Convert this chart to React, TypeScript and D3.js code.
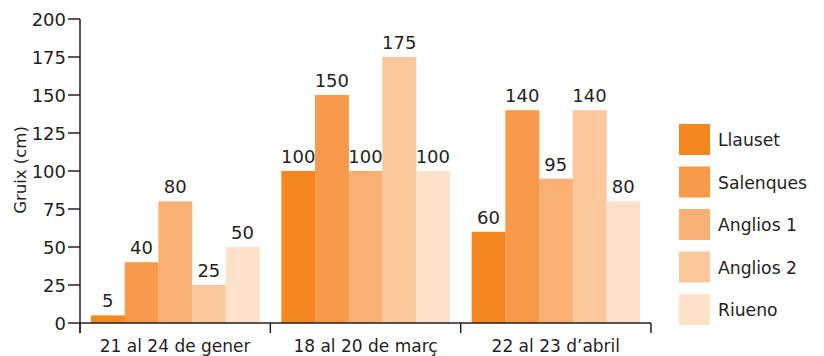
import React from "react";
import * as d3 from "d3";

const periods = ["21 al 24 de gener", "18 al 20 de març", "22 al 23 d’abril"];
const stations = ["Llauset", "Salenques", "Anglios 1", "Anglios 2", "Riueno"];
const llauset = [5, 100, 60];
const salenques = [40, 150, 140];
const anglios1 = [80, 100, 95];
const anglios2 = [25, 175, 140];
const riueno = [50, 100, 80];
const yTicks = [0, 25, 50, 75, 100, 125, 150, 175, 200];
const colors = ["#F58720", "#F79B4B", "#F9B173", "#FBC79B", "#FDE1C9"];

const seriesValues = [llauset, salenques, anglios1, anglios2, riueno];

const W = 824;
const H = 356;
const left = 80;
const right = 651;
const top = 19;
const bottom = 323;
const ink = "#231F20";
const font = "'DejaVu Sans', sans-serif";

export default function App() {
  const x0 = d3.scaleBand<string>().domain(periods).range([left, right]).padding(0);
  const x1 = d3
    .scaleBand<string>()
    .domain(stations)
    .range([11, x0.bandwidth() - 11])
    .padding(0);
  const y = d3.scaleLinear().domain([0, 200]).range([bottom, top]);
  const boundaries = [left, ...periods.map((p) => (x0(p) as number) + x0.bandwidth())];

  return (
    <svg
      width={W}
      height={H}
      style={{ position: "absolute", left: 0, top: 0, background: "#fff" }}
      fontFamily={font}
    >
      {periods.map((p, pi) => (
        <g key={p} transform={`translate(${x0(p)},0)`}>
          {stations.map((s, si) => {
            const v = seriesValues[si][pi];
            const bx = x1(s) as number;
            return (
              <g key={s}>
                <rect
                  x={bx}
                  y={y(v)}
                  width={x1.bandwidth() + 0.3}
                  height={bottom - y(v)}
                  fill={colors[si]}
                />
                <text
                  x={bx + x1.bandwidth() / 2}
                  y={y(v) - 8}
                  textAnchor="middle"
                  fontSize={18}
                  fill={ink}
                >
                  {v}
                </text>
              </g>
            );
          })}
          <text
            x={x0.bandwidth() / 2}
            y={352}
            textAnchor="middle"
            fontSize={17}
            fill={ink}
          >
            {p}
          </text>
        </g>
      ))}

      {/* y axis */}
      <line x1={left} x2={left} y1={top} y2={333} stroke={ink} strokeWidth={1.5} />
      {yTicks.map((t) => (
        <g key={t}>
          <line x1={68} x2={left} y1={y(t)} y2={y(t)} stroke={ink} strokeWidth={1.5} />
          <text x={66} y={y(t) + 6.5} textAnchor="end" fontSize={18} fill={ink}>
            {t}
          </text>
        </g>
      ))}
      <text
        transform={`translate(26,170) rotate(-90)`}
        textAnchor="middle"
        fontSize={16.5}
        fill={ink}
      >
        Gruix (cm)
      </text>

      {/* x axis */}
      <line x1={left} x2={right} y1={bottom} y2={bottom} stroke={ink} strokeWidth={1.5} />
      {boundaries.map((b, i) => (
        <line key={i} x1={b} x2={b} y1={bottom} y2={333} stroke={ink} strokeWidth={1.5} />
      ))}

      {/* legend */}
      {stations.map((s, i) => (
        <g key={s} transform={`translate(679,${124 + i * 42.5})`}>
          <rect width={31} height={31} fill={colors[i]} />
          <text x={39} y={22} fontSize={17.2} fill={ink}>
            {s}
          </text>
        </g>
      ))}
    </svg>
  );
}
